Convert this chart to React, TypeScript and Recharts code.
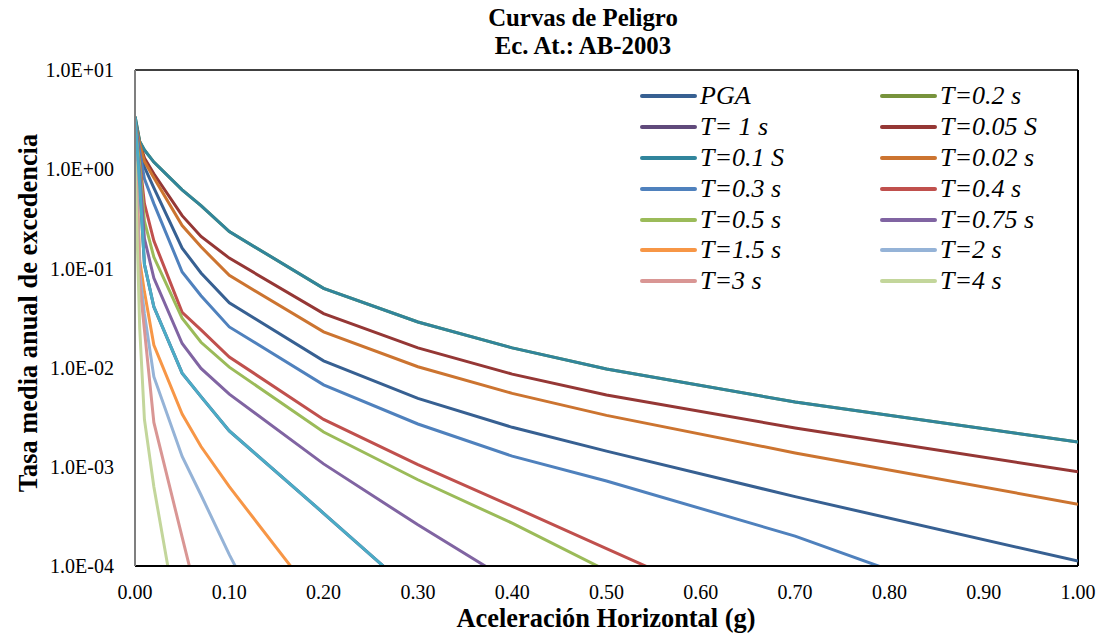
import { LineChart, Line, XAxis, YAxis, Legend, ReferenceLine } from "recharts";

const serif = "'Liberation Serif', 'Times New Roman', serif";

// aceleración horizontal (g)
const xs = [0.0001, 0.005, 0.01, 0.02, 0.05, 0.07, 0.1, 0.2, 0.3, 0.4, 0.5, 0.7, 1.0];

// tasas de excedencia
const pga = [2.9, 1.7, 1.05, 0.65, 0.16, 0.09, 0.045, 0.0117, 0.0049, 0.0025, 0.00144, 0.0005, 0.000112];
const t01 = [3.4, 1.9, 1.56, 1.18, 0.62, 0.43, 0.235, 0.063, 0.0288, 0.0158, 0.0097, 0.0045, 0.00178];
const t02 = [3.4, 1.9, 1.56, 1.18, 0.62, 0.43, 0.235, 0.063, 0.0288, 0.0158, 0.0097, 0.0045, 0.00178];
const t005 = [3.2, 1.85, 1.3, 0.9, 0.34, 0.21, 0.127, 0.035, 0.0158, 0.0086, 0.0053, 0.00246, 0.00089];
const t002 = [3.0, 1.8, 1.2, 0.82, 0.27, 0.165, 0.085, 0.0229, 0.0102, 0.0055, 0.0033, 0.00138, 0.00042];
const t03 = [3.0, 1.5, 0.8, 0.45, 0.092, 0.053, 0.0257, 0.0067, 0.0027, 0.00128, 0.00072, 0.0002, 0.000019];
const t04 = [2.8, 1.2, 0.45, 0.19, 0.036, 0.024, 0.0128, 0.003, 0.00105, 0.0004, 0.00015, 0.000021, 0.000001];
const t05 = [2.6, 1.1, 0.3, 0.13, 0.0315, 0.018, 0.0101, 0.00224, 0.00074, 0.00027, 0.00009, 0.000005, 0.0000005];
const t075 = [2.4, 0.9, 0.2, 0.08, 0.0175, 0.0098, 0.0054, 0.00107, 0.00026, 0.000068, 0.00001, 0.0000005, 0.00000001];
const t1 = [3.3, 0.7, 0.11, 0.041, 0.0088, 0.0051, 0.0023, 0.00034, 0.000049, 0.00001, 0.000002, 0.0000001, 0.00000001];
const t15 = [3.1, 0.12, 0.058, 0.0169, 0.0034, 0.0016, 0.00063, 0.000037, 0.000003, 0.0000003, 0.00000003, 0.000000001, 0.0000000001];
const t2 = [2.5, 0.09, 0.035, 0.0081, 0.00127, 0.00052, 0.00013, 0.000002, 0.0000001, 0.00000001, 0.000000001, 0.0000000001, 0.00000000001];
const t3 = [2.0, 0.07, 0.024, 0.0028, 0.000195, 0.000034, 0.000005, 0.0000001, 0.00000001, 0.000000001, 0.0000000001, 0.00000000001, 0.000000000001];
const t4 = [1.2, 0.025, 0.003, 0.00063, 0.000015, 0.000003, 0.0000005, 0.00000001, 0.000000001, 0.0000000001, 0.00000000001, 0.000000000001, 0.0000000000001];

const xTicks = [0, 0.1, 0.2, 0.3, 0.4, 0.5, 0.6, 0.7, 0.8, 0.9, 1.0];
const yTicks = [1e-4, 1e-3, 1e-2, 1e-1, 1, 10];

// orden de las series como en Excel (la leyenda se llena por filas)
const series = [
  { key: "pga", name: "PGA", color: "#376092", values: pga, legend: true },
  { key: "t02", name: "T=0.2 s", color: "#77933C", values: t02, legend: true },
  { key: "t1a", name: "T= 1 s", color: "#604A7B", values: t1, legend: true },
  { key: "t005", name: "T=0.05 S", color: "#953735", values: t005, legend: true },
  { key: "t01", name: "T=0.1 S", color: "#31859C", values: t01, legend: true },
  { key: "t002", name: "T=0.02 s", color: "#CC7430", values: t002, legend: true },
  { key: "t03", name: "T=0.3 s", color: "#4F81BD", values: t03, legend: true },
  { key: "t04", name: "T=0.4 s", color: "#C0504D", values: t04, legend: true },
  { key: "t05", name: "T=0.5 s", color: "#9BBB59", values: t05, legend: true },
  { key: "t075", name: "T=0.75 s", color: "#8064A2", values: t075, legend: true },
  { key: "t15", name: "T=1.5 s", color: "#F79646", values: t15, legend: true },
  { key: "t2", name: "T=2 s", color: "#95B3D7", values: t2, legend: true },
  { key: "t3", name: "T=3 s", color: "#D99694", values: t3, legend: true },
  { key: "t4", name: "T=4 s", color: "#C3D69B", values: t4, legend: true },
  { key: "t1b", name: "T=1 s", color: "#4BACC6", values: t1, legend: false },
];

const data = xs.map((x, i) => {
  const row: Record<string, number> = { x };
  series.forEach((s) => (row[s.key] = s.values[i]));
  return row;
});

const sci = (v: number) => {
  const e = Math.round(Math.log10(v));
  return `1.0E${e < 0 ? "-" : "+"}${String(Math.abs(e)).padStart(2, "0")}`;
};

function LegendBox() {
  return (
    <div
      style={{
        display: "grid",
        gridTemplateColumns: "240px 200px",
        fontFamily: serif,
        fontStyle: "italic",
        fontSize: 26,
        color: "#000",
      }}
    >
      {series
        .filter((s) => s.legend)
        .map((s) => (
          <div key={s.key} style={{ display: "flex", alignItems: "center", height: 30.8 }}>
            <svg width={60} height={8} style={{ flex: "none" }}>
              <line x1={2} y1={4} x2={55} y2={4} stroke={s.color} strokeWidth={4} strokeLinecap="round" />
            </svg>
            <span style={{ lineHeight: 1, whiteSpace: "pre" }}>{s.name}</span>
          </div>
        ))}
    </div>
  );
}

export default function App() {
  return (
    <div style={{ position: "absolute", left: 0, top: 0, width: 1102, height: 641, background: "#fff" }}>
      <LineChart width={1102} height={641} data={data} margin={{ top: 70, right: 24, bottom: 40, left: 40 }}>
        <text x={583} y={26} textAnchor="middle" fontFamily={serif} fontWeight="bold" fontSize={24.8} fill="#000">
          Curvas de Peligro
        </text>
        <text x={583} y={53.5} textAnchor="middle" fontFamily={serif} fontWeight="bold" fontSize={24.8} fill="#000">
          Ec. At.: AB-2003
        </text>
        <text
          x={37}
          y={313}
          textAnchor="middle"
          transform="rotate(-90, 37, 313)"
          fontFamily={serif}
          fontWeight="bold"
          fontSize={26.4}
          fill="#000"
        >
          Tasa media anual de excedencia
        </text>
        <text x={606} y={627} textAnchor="middle" fontFamily={serif} fontWeight="bold" fontSize={26.4} fill="#000">
          Aceleración Horizontal (g)
        </text>
        <XAxis
          dataKey="x"
          type="number"
          domain={[0, 1]}
          ticks={xTicks}
          allowDataOverflow
          height={35}
          tickLine={false}
          tickSize={0}
          tickMargin={19}
          tickFormatter={(v) => v.toFixed(2)}
          axisLine={{ stroke: "#000", strokeWidth: 2 }}
          tick={{ fontFamily: serif, fontSize: 20, fill: "#000" }}
          interval={0}
        />
        <YAxis
          scale="log"
          domain={[1e-4, 10]}
          ticks={yTicks}
          allowDataOverflow
          width={95}
          tickLine={false}
          tickSize={0}
          tickMargin={21}
          tickFormatter={sci}
          axisLine={{ stroke: "#7F7F7F", strokeWidth: 2 }}
          tick={{ fontFamily: serif, fontSize: 20, fill: "#000" }}
          interval={0}
        />
        <ReferenceLine y={10} stroke="#404040" strokeWidth={2} />
        <ReferenceLine x={1} stroke="#000" strokeWidth={2} />
        <Legend
          content={() => <LegendBox />}
          layout="vertical"
          align="center"
          verticalAlign="middle"
          wrapperStyle={{ position: "absolute", left: 640, top: 81, width: 460 }}
        />
        {series.map((s) => (
          <Line
            key={s.key}
            dataKey={s.key}
            name={s.name}
            type="linear"
            stroke={s.color}
            strokeWidth={3}
            dot={false}
            activeDot={false}
            legendType={s.legend ? "line" : "none"}
            isAnimationActive={false}
          />
        ))}
      </LineChart>
    </div>
  );
}
